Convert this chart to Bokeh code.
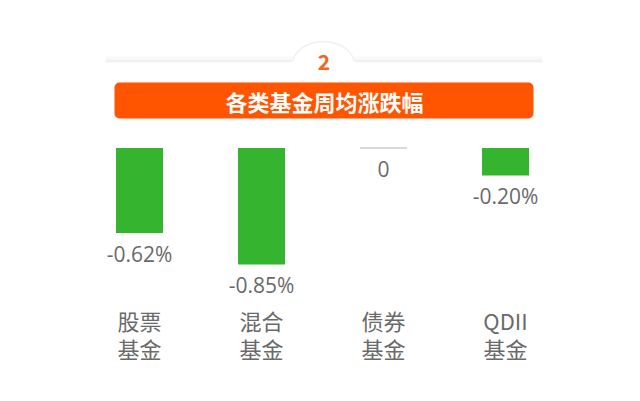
from bokeh.plotting import figure
from bokeh.models import Range1d, BoxAnnotation, Label
from bokeh.core.properties import value
from bokeh.embed import file_html
from bokeh.resources import INLINE

# ---- data ----
categories_line1 = ["股票", "混合", "债券", "QDII"]
categories_line2 = ["基金", "基金", "基金", "基金"]
weekly_change = [-0.62, -0.85, 0.0, -0.20]
value_labels = ["-0.62%", "-0.85%", "0", "-0.20%"]
title_text = "各类基金周均涨跌幅"
section_number = "2"

# ---- layout (page pixels) ----
W, H = 624, 385
OFF = 0
X0, DX = 139.0, 122.0     # first bar centre, spacing
Y0, DY = 147.5, 137.0     # zero line, px per 1 %


def X(px):
    return (px - X0) / DX


def Y(py):
    return (Y0 - py) / DY


p = figure(width=W, height=H, output_backend="svg", toolbar_location=None,
           x_range=Range1d(X(OFF), X(OFF + W)), y_range=Range1d(Y(OFF + H), Y(OFF)),
           x_axis_location=None, y_axis_location=None, min_border=0,
           background_fill_color="white", border_fill_color="white")
p.grid.visible = False
p.outline_line_color = None

GREEN = "#35B52F"
ORANGE = "#FF5500"
GRAY = "#6a6a6a"
CJK = "Noto Sans CJK SC"

# ---- header decoration ----
p.quad(left=[X(105)], right=[X(542)], top=[Y(56)], bottom=[Y(59)],
       fill_color="#f9f9f9", line_color=None)
p.quad(left=[X(105)], right=[X(542)], top=[Y(59)], bottom=[Y(62)],
       fill_color="#f1f1f1", line_color=None)
p.ellipse(x=[X(323)], y=[Y(64)], width=[62], height=[46],
          width_units="screen", height_units="screen",
          fill_color="white", line_color="#f0f0f0", line_width=1.5)
p.quad(left=[X(290)], right=[X(356)], top=[Y(61)], bottom=[Y(80)],
       fill_color="white", line_color=None)
p.add_layout(Label(x=X(323.5), y=Y(61), text=section_number,
                   text_align="center", text_baseline="middle",
                   text_font=CJK, text_font_style="bold",
                   text_font_size="21px", text_color="#F26522"))

banner = BoxAnnotation(left=X(114), right=X(533), top=Y(82), bottom=Y(118),
                       fill_color=ORANGE, fill_alpha=1.0, line_color=None,
                       border_radius=5)
p.add_layout(banner)
p.add_layout(Label(x=X(324), y=Y(100), text=title_text,
                   text_align="center", text_baseline="middle",
                   text_font=CJK, text_font_style="bold",
                   text_font_size="22px", text_color="white"))

# ---- bars ----
idx = list(range(len(weekly_change)))
BAR_W = 47 / DX
p.vbar(x=idx, top=[0] * len(idx), bottom=weekly_change, width=BAR_W,
       fill_color=GREEN, line_color=None)
zero_idx = [i for i, v in enumerate(weekly_change) if v == 0]
p.segment(x0=[i - BAR_W / 2 for i in zero_idx], x1=[i + BAR_W / 2 for i in zero_idx],
          y0=[0] * len(zero_idx), y1=[0] * len(zero_idx),
          line_color="#cccccc", line_width=1.5)

# value labels under bars
p.text(x=idx, y=weekly_change, text=value_labels, y_offset=21,
       text_align="center", text_baseline="middle",
       text_font=value("Open Sans"), text_font_size="21px", text_color=GRAY)

# category labels
p.text(x=idx, y=[Y(319)] * len(idx), text=categories_line1,
       text_align="center", text_baseline="middle",
       text_font=value(CJK), text_font_size="22px", text_color=GRAY)
p.text(x=idx, y=[Y(347)] * len(idx), text=categories_line2,
       text_align="center", text_baseline="middle",
       text_font=value(CJK), text_font_size="22px", text_color=GRAY)

open("out.html", "w").write(file_html(p, INLINE))
